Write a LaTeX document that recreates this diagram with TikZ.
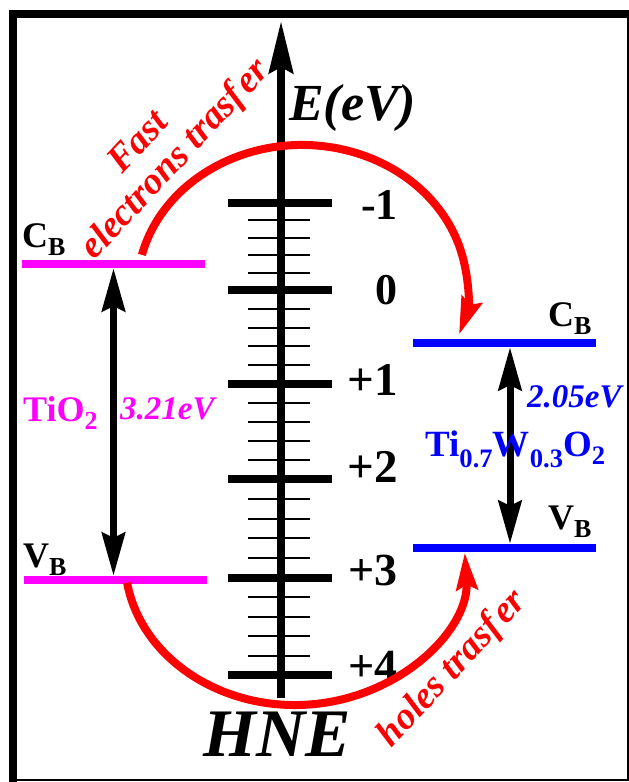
\documentclass[tikz,border=0pt]{standalone}
\usepackage{fontspec}
\setmainfont{Liberation Serif}
\usepackage{graphicx}
\usepackage{tikz}
\usetikzlibrary{arrows.meta,positioning}
\definecolor{hotred}{RGB}{255,0,0}
\definecolor{tiomag}{RGB}{255,0,255}
\definecolor{tiwblue}{RGB}{0,0,255}
\newcommand{\fs}[1]{\fontsize{#1}{#1}\selectfont}
\newcommand{\lowsub}[2][0.2em]{\raisebox{-#1}{\scalebox{0.72}{#2}}}

\begin{document}
\begin{tikzpicture}[
    x=1pt, y=1pt,
    majortick/.style={line width=8pt},
    minortick/.style={line width=2pt},
    tlevel/.style={rectangle, fill=tiomag, inner sep=0pt, minimum width=183pt, minimum height=8pt},
    wlevel/.style={rectangle, fill=tiwblue, inner sep=0pt, minimum width=183pt, minimum height=8pt},
    gaparrow/.style={line width=7pt, {Stealth[length=43pt,width=23pt,inset=5pt]}-{Stealth[length=43pt,width=23pt,inset=5pt]}},
    trans/.style={line width=8pt, color=hotred, -{Stealth[length=37pt,width=21pt,inset=5pt]}},
    translabel/.style={text=hotred, font=\fs{38}\bfseries\itshape, inner sep=0pt, rotate=47},
    bandlabel/.style={font=\fs{36}\bfseries, inner sep=0pt, anchor=base west},
    ticklabel/.style={inner sep=0pt, anchor=east}
]
\useasboundingbox (0,0) rectangle (629,782);

% Frame
\draw[line width=2.2pt] (13,2) -- (628,2) -- (628,768);
\draw[line width=8pt, line join=miter] (13,0) -- (13,768) -- (629,768);

% Band levels
\node[tlevel] (tcb) at (113.5,518) {};
\node[tlevel] (tvb) at (115,202) {};
\node[wlevel] (wcb) at (504.5,439) {};
\node[wlevel] (wvb) at (504.5,234) {};

\node[bandlabel] (tcblab) at (22,534) {C\lowsub{B}};
\node[bandlabel] (tvblab) at (23,214) {V\lowsub{B}};
\node[bandlabel] (wcblab) at (548,455) {C\lowsub{B}};
\node[bandlabel] (wvblab) at (548,252) {V\lowsub{B}};

% Band gaps
\draw[gaparrow] (tcb.south) -- (tcb.south |- tvb.north);
\draw[gaparrow] ([xshift=5.5pt]wcb.south) -- ([xshift=5.5pt]wvb.north);

\node[bandlabel, text=tiomag] (tiolab) at (23,360) {TiO\lowsub{2}};
\node[bandlabel, font=\fs{33}\bfseries\itshape, text=tiomag] (tiogap) at (120,362) {3.21eV};
\node[bandlabel, font=\fs{33}\bfseries\itshape, text=tiwblue] (twgap) at (527,374) {2.05eV};
\node[bandlabel, font=\fs{37}\bfseries, text=tiwblue] (twlab) at (425,325)
     {Ti\lowsub[0.28em]{0.7}W\lowsub[0.28em]{0.3}O\lowsub{2}};

% Energy axis (vs HNE)
\coordinate (axbot) at (281,84);
\coordinate (axtop) at (281,761);
\draw[line width=8pt, -{Stealth[length=52pt,width=24pt,inset=6pt]}] (axbot) -- (axtop);

\foreach \ya/\yb in {579/492, 492/398, 398/303, 303/204, 204/107}
  \foreach \k in {0.2,0.4,0.6,0.8}
    \draw[minortick] (248,{\ya+(\yb-\ya)*\k}) -- (310,{\ya+(\yb-\ya)*\k});

\foreach \y/\ly/\lab/\sz [count=\i] in {579/577/-1/44, 492/492/0/44, 398/402/+1/47,
                                        303/315/+2/47, 204/212/+3/46, 107/116/+4/46}{
  \draw[majortick] (228,\y) -- (332,\y);
  \node[ticklabel, font=\fs{\sz}\bfseries] (eng\i) at (398,\ly) {\lab};
}

\node[font=\fs{52}\bfseries\itshape, anchor=base west, inner sep=0pt] (evlab) at (289,661) {E(eV)};
\node[font=\fs{68}\bfseries\itshape, anchor=base, inner sep=0pt] (hne) at (277,25) {HNE};

% Charge transfer
\coordinate (etop) at (141.9,527.1);
\coordinate (hbot) at (127.1,199.3);
\draw[trans] (etop) arc[start angle=166, end angle=-18, x radius=165, y radius=145];
\draw[trans] (hbot) arc[start angle=189, end angle=363, x radius=170, y radius=145];

\node[translabel] (fastlab) at (137,641) {Fast};
\node[translabel] (eltlab) at (176,622) {electrons trasf\kern4pt er};
\node[translabel] (holelab) at (453,113) {holes trasf\kern4pt er};

\end{tikzpicture}
\end{document}
